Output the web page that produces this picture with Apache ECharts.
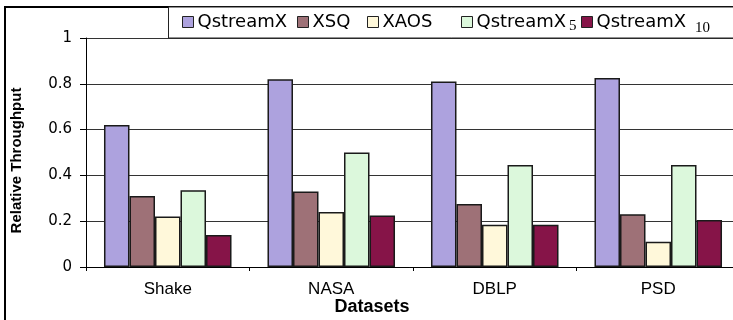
<!DOCTYPE html>
<html>
<head>
<meta charset="utf-8">
<script src="https://cdn.jsdelivr.net/npm/echarts@6/dist/echarts.min.js"></script>
<style>
  html, body { margin: 0; padding: 0; background: #fff; }
  #chart { width: 733px; height: 320px; }
</style>
</head>
<body>
<div id="chart"></div>
<script>
// Relative throughput per dataset
const datasets = ['Shake', 'NASA', 'DBLP', 'PSD'];
const qstreamX = [0.62, 0.82, 0.81, 0.825];
const xsq = [0.31, 0.33, 0.275, 0.23];
const xaos = [0.22, 0.24, 0.185, 0.11];
const qstreamX5 = [0.335, 0.50, 0.445, 0.445];
const qstreamX10 = [0.14, 0.225, 0.185, 0.205];

const seriesNames = ['QstreamX', 'XSQ', 'XAOS', 'QstreamX5', 'QstreamX10'];
const seriesValues = [qstreamX, xsq, xaos, qstreamX5, qstreamX10];
const seriesColors = ['#ADA2DE', '#9E7177', '#FFF8DA', '#DCF8DC', '#861448'];

// legend label text: base name plus subscript
const legendLabels = {
  'QstreamX': '{n|QstreamX}',
  'XSQ': '{n|XSQ}',
  'XAOS': '{n|XAOS}',
  'QstreamX5': '{n|QstreamX}{s5|5}',
  'QstreamX10': '{n|QstreamX}{s10|10}'
};
const legendLefts = [182, 297, 367, 461, 581];

const chart = echarts.init(document.getElementById('chart'), null, { renderer: 'canvas' });

const legends = seriesNames.map((name, i) => ({
  data: [name],
  left: legendLefts[i],
  top: 13,
  z: 20,
  padding: 0,
  orient: 'horizontal',
  itemWidth: 11,
  itemHeight: 11,
  itemGap: 0,
  selectedMode: false,
  icon: 'rect',
  itemStyle: { borderColor: '#222', borderWidth: 1 },
  formatter: n => legendLabels[n],
  textStyle: {
    padding: [0, 0, 0, -1],
    rich: {
      n: { fontFamily: 'DejaVu Sans', fontSize: 18, color: '#000' },
      s5: { fontFamily: 'Liberation Serif', fontSize: 15, color: '#000', padding: [8, 0, 0, 3] },
      s10: { fontFamily: 'Liberation Serif', fontSize: 15, color: '#000', padding: [12, 0, 0, 9] }
    }
  }
}));

const option = {
  animation: false,
  backgroundColor: '#fff',
  graphic: [
    {
      type: 'rect',
      z: 0,
      shape: { x: 5, y: 7, width: 800, height: 400 },
      style: { fill: 'none', stroke: '#000', lineWidth: 2 }
    },
    {
      type: 'rect',
      z: 10,
      shape: { x: 168.5, y: 7, width: 600, height: 31 },
      style: { fill: '#fff', stroke: '#222', lineWidth: 1 }
    }
  ],
  legend: legends,
  grid: {
    left: 86, top: 38, width: 654, bottom: 53,
    containLabel: false,
    outerBoundsMode: 'none'
  },
  xAxis: {
    type: 'category',
    data: datasets,
    name: 'Datasets',
    nameLocation: 'middle',
    nameGap: 31,
    nameMoveOverlap: false,
    nameTextStyle: {
      fontFamily: 'Liberation Sans', fontWeight: 'bold', fontSize: 18, color: '#000',
      padding: [0, 82, 0, 0]
    },
    axisLine: { lineStyle: { color: '#000', width: 1 } },
    axisTick: { show: true, length: 4, lineStyle: { color: '#000' }, alignWithLabel: false },
    axisLabel: { fontFamily: 'Liberation Sans', fontSize: 17, color: '#000', margin: 14 },
    splitLine: { show: false }
  },
  yAxis: {
    type: 'value',
    min: 0,
    max: 1,
    interval: 0.2,
    name: 'Relative Throughput',
    nameLocation: 'middle',
    nameRotate: 90,
    nameGap: 62,
    nameMoveOverlap: false,
    nameTextStyle: {
      fontFamily: 'Liberation Sans', fontWeight: 'bold', fontSize: 15, color: '#000',
      padding: [0, 16, 0, 0]
    },
    axisLine: { show: true, lineStyle: { color: '#000', width: 1 } },
    axisTick: { show: true, inside: false, length: 6, lineStyle: { color: '#000' } },
    axisLabel: { fontFamily: 'DejaVu Sans', fontSize: 15, color: '#000', margin: 14 },
    splitLine: { show: true, lineStyle: { color: '#333', width: 1 } }
  },
  series: seriesNames.map((name, i) => ({
    name: name,
    type: 'bar',
    data: seriesValues[i],
    barGap: '0%',
    barCategoryGap: '22%',
    itemStyle: { color: seriesColors[i], borderColor: '#1a1a1a', borderWidth: 1.5 },
    z: 2
  }))
};

chart.setOption(option);
</script>
</body>
</html>
